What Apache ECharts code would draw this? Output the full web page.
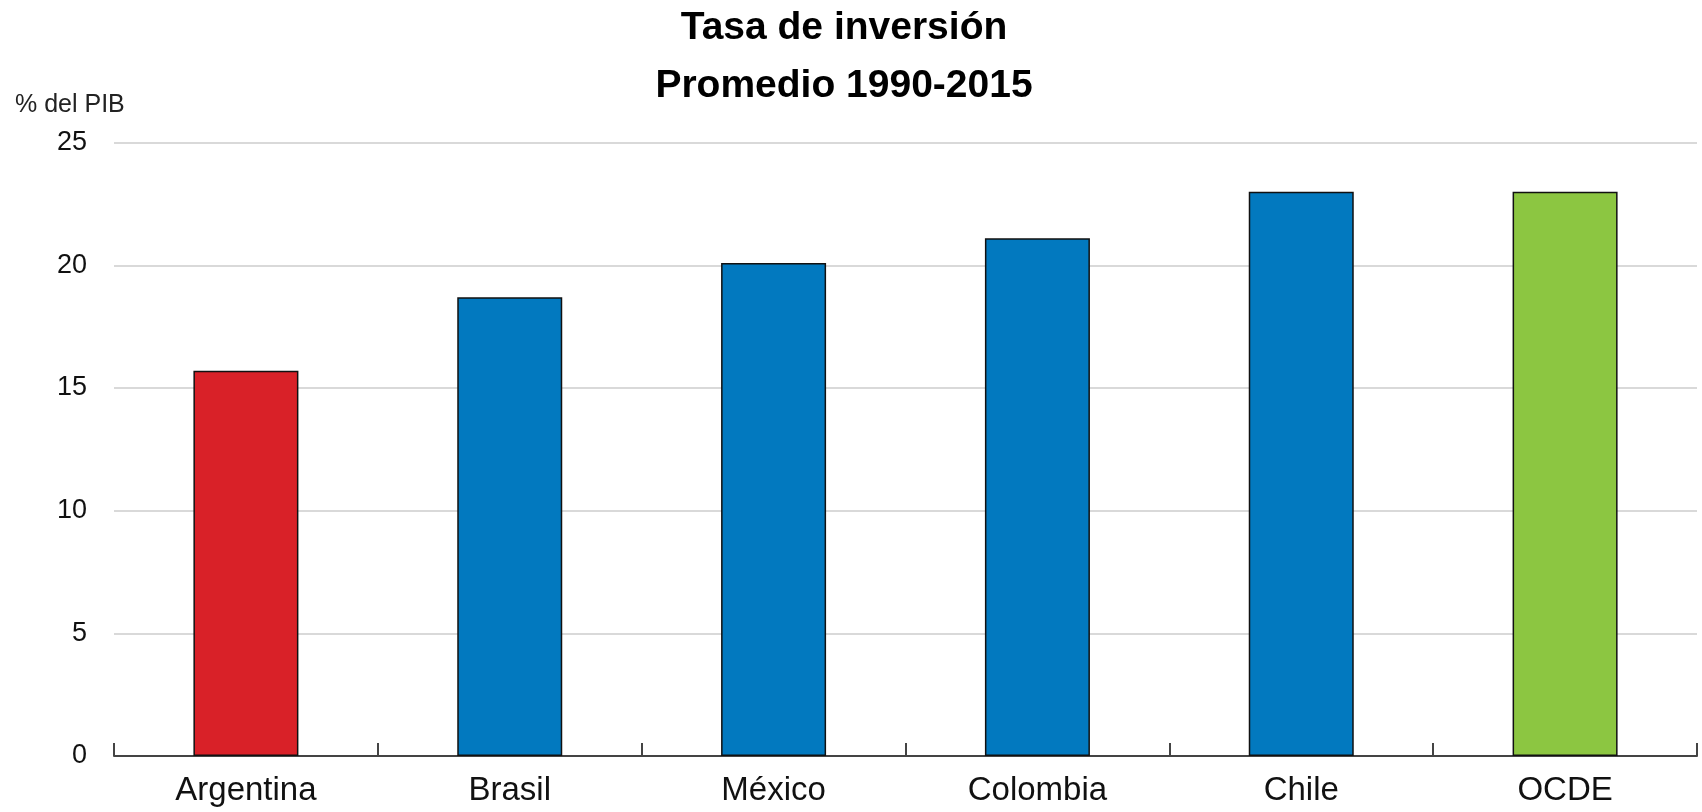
<!DOCTYPE html>
<html>
<head>
<meta charset="utf-8">
<script src="https://cdn.jsdelivr.net/npm/echarts@6/dist/echarts.min.js"></script>
<style>
  html, body { margin: 0; padding: 0; background: #fff; }
  #dom { width: 1702px; height: 812px; }
</style>
</head>
<body>
<div id="dom"></div>
<script>
// Tasa de inversión, promedio 1990-2015 (% del PIB)
const paises = ['Argentina', 'Brasil', 'México', 'Colombia', 'Chile', 'OCDE']
const tasa = [15.7, 18.7, 20.1, 21.1, 23.0, 23.0]
const colores = ['#d92128', '#0279bf', '#0279bf', '#0279bf', '#0279bf', '#8cc641']

const fuente = "'Liberation Sans', Arial, sans-serif"

const option = {
    animation: false,
    backgroundColor: '#fff',
    title: {
        text: 'Tasa de inversión\nPromedio 1990-2015',
        left: 844,
        top: -1,
        padding: 0,
        textAlign: 'center',
        textStyle: {
            fontFamily: fuente,
            fontWeight: 'bold',
            fontSize: 39,
            lineHeight: 58,
            color: '#000'
        }
    },
    graphic: [{
        type: 'text',
        left: 15,
        top: 93,
        style: {
            text: '% del PIB',
            fontFamily: fuente,
            fontSize: 25,
            fill: '#222'
        }
    }],
    grid: {
        left: 114,
        right: 5,
        top: 142.7,
        bottom: 56
    },
    xAxis: {
        type: 'category',
        data: paises,
        axisLine: {
            lineStyle: { color: '#444', width: 2 }
        },
        axisTick: {
            show: true,
            inside: true,
            interval: 0,
            alignWithLabel: false,
            length: 13,
            lineStyle: { color: '#444', width: 2 }
        },
        axisLabel: {
            margin: 18,
            fontFamily: fuente,
            fontSize: 33,
            color: '#111'
        }
    },
    yAxis: {
        type: 'value',
        min: 0,
        max: 25,
        interval: 5,
        axisLine: { show: false },
        axisTick: { show: false },
        axisLabel: {
            margin: 27,
            fontFamily: fuente,
            fontSize: 27,
            color: '#111'
        },
        splitLine: {
            lineStyle: { color: '#cdcdcd', width: 1.5 }
        }
    },
    series: [{
        type: 'bar',
        barWidth: 105,
        data: tasa.map((v, i) => ({
            value: v,
            itemStyle: { color: colores[i] }
        })),
        itemStyle: {
            borderColor: '#111',
            borderWidth: 1.5
        }
    }]
}

let myChart = echarts.init(document.getElementById('dom'))
myChart.setOption(option, true)
</script>
</body>
</html>
